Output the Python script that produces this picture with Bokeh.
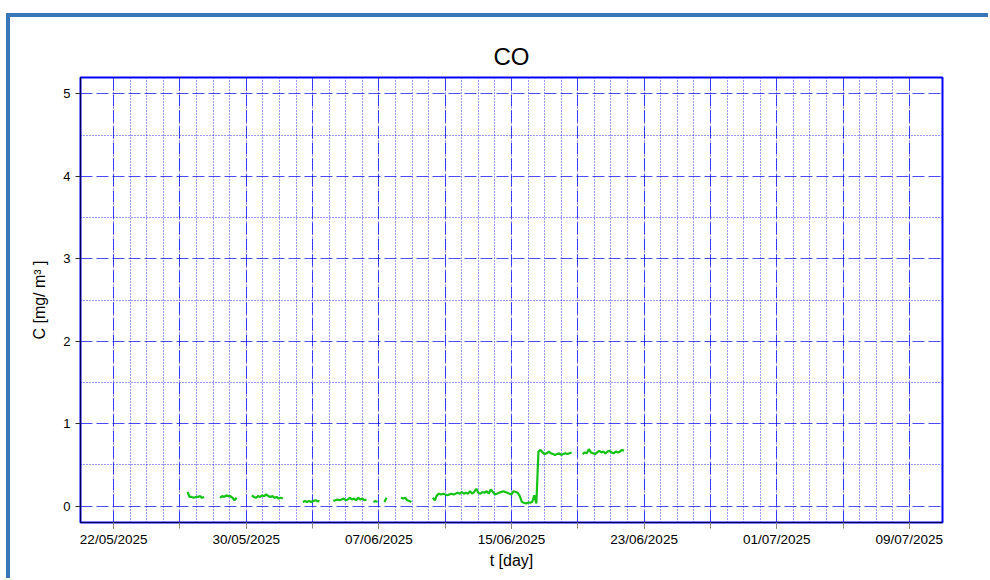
import numpy as np
import pandas as pd
from bokeh.plotting import figure
from bokeh.models import FixedTicker, DatetimeTickFormatter, Range1d
from bokeh.embed import file_html
from bokeh.resources import INLINE

# ---------------- data ----------------
title_text = "CO"
x_label = "t [day]"
y_label = "C [mg/ m³ ]"

x_start = "2025-05-20"
x_end = "2025-07-11"
y_min, y_max = -0.2, 5.2

label_dates = ["2025-05-22", "2025-05-30", "2025-06-07", "2025-06-15",
               "2025-06-23", "2025-07-01", "2025-07-09"]
grid_first = "2025-05-22"
grid_last = "2025-07-09"
y_ticks = [0, 1, 2, 3, 4, 5]
y_minor = [0.5, 1.5, 2.5, 3.5, 4.5]

sample_step = "3h"
seg_starts = [
    "2025-05-26 11:00", "2025-05-28 10:00", "2025-05-30 08:00", "2025-06-02 10:00",
    "2025-06-04 06:00", "2025-06-06 16:00", "2025-06-07 08:00", "2025-06-08 08:00",
    "2025-06-10 06:00", "2025-06-19 07:00",
]
seg_values = [
    [0.17, 0.11, 0.11, 0.10, 0.11, 0.11, 0.12, 0.10, 0.11],
    [0.10, 0.12, 0.11, 0.13, 0.12, 0.12, 0.10, 0.07, 0.10],
    [0.13, 0.11, 0.10, 0.12, 0.11, 0.13, 0.12, 0.14, 0.12, 0.11, 0.12, 0.10,
     0.11, 0.09, 0.10, 0.09],
    [0.05, 0.06, 0.05, 0.06, 0.05, 0.06, 0.07, 0.06, 0.06],
    [0.06, 0.07, 0.08, 0.07, 0.08, 0.09, 0.07, 0.08, 0.10, 0.08, 0.09, 0.07,
     0.10, 0.08, 0.09, 0.07, 0.08],
    [0.05, 0.06, 0.05],
    [0.05, 0.10],
    [0.10, 0.09, 0.10, 0.07, 0.06, 0.05],
    [0.10, 0.07, 0.13, 0.15, 0.14, 0.15, 0.14, 0.13, 0.14, 0.15, 0.14, 0.15,
     0.16, 0.15, 0.17, 0.15, 0.16, 0.15, 0.18, 0.15, 0.17, 0.21, 0.16, 0.15,
     0.17, 0.16, 0.18, 0.15, 0.20, 0.17, 0.14, 0.15, 0.16, 0.17, 0.18, 0.17,
     0.16, 0.15, 0.14, 0.18, 0.17, 0.16, 0.12, 0.05,
     0.04, 0.03, 0.04, 0.04, 0.05, 0.13, 0.03,
     0.66, 0.68, 0.65, 0.63, 0.64, 0.66, 0.64, 0.63, 0.62, 0.63, 0.64, 0.62,
     0.63, 0.64, 0.63, 0.64, 0.65],
    [0.63, 0.65, 0.64, 0.69, 0.65, 0.64, 0.63, 0.65, 0.67, 0.65, 0.66, 0.64,
     0.66, 0.67, 0.65, 0.64, 0.66, 0.65, 0.66, 0.68, 0.67],
]

FONT = "Liberation Sans"


def ms(s):
    return pd.Timestamp(s).timestamp() * 1000.0


p = figure(frame_width=862, frame_height=445, x_axis_type="datetime",
           output_backend="svg", toolbar_location=None,
           x_range=Range1d(pd.Timestamp(x_start), pd.Timestamp(x_end)),
           y_range=Range1d(y_min, y_max),
           min_border_left=70, min_border_right=46,
           min_border_top=60, min_border_bottom=56)
p.styles = {"border-left": "4px solid #3878b8", "border-top": "4px solid #3878b8",
            "margin-left": "6px", "margin-top": "13px"}
p.background_fill_color = "white"
p.border_fill_color = "white"
p.outline_line_color = "#0000ff"
p.outline_line_width = 2
p.outline_line_alpha = 1.0

p.title.text = title_text
p.title.align = "center"
p.title.text_font = FONT
p.title.text_font_size = "24px"
p.title.text_font_style = "normal"
p.title.text_color = "black"
p.title.standoff = 16

# ticks
day_ticks = [t.timestamp() * 1000.0 for t in pd.date_range(grid_first, grid_last, freq="1D")]
four_ticks = [t.timestamp() * 1000.0 for t in pd.date_range(grid_first, grid_last, freq="4D")]

xa = p.xaxis[0]
xa.ticker = FixedTicker(ticks=[ms(d) for d in label_dates], minor_ticks=four_ticks)
fmt = "%d/%m/%Y"
xa.formatter = DatetimeTickFormatter(days=fmt, months=fmt, years=fmt, hours=fmt,
                                     hourmin=fmt, minutes=fmt)
ya = p.yaxis[0]
ya.ticker = FixedTicker(ticks=y_ticks, minor_ticks=[])

for ax in (xa, ya):
    ax.axis_line_color = "#000050"
    ax.axis_line_width = 1
    ax.major_tick_in = 0
    ax.major_tick_line_color = "#303030"
    ax.major_label_text_font = FONT
    ax.major_label_text_color = "black"
    ax.axis_label_text_font = FONT
    ax.axis_label_text_font_size = "16px"
    ax.axis_label_text_font_style = "normal"
    ax.axis_label_text_color = "black"

xa.major_tick_out = 6
xa.minor_tick_out = 6
xa.minor_tick_in = 0
xa.minor_tick_line_color = "#8a8a8a"
xa.major_label_text_font_size = "13.5px"
xa.major_label_standoff = 3
xa.axis_label = x_label
xa.axis_label_standoff = 2

ya.major_tick_out = 5
ya.minor_tick_line_color = None
ya.major_label_text_font_size = "13px"
ya.major_label_standoff = 5
ya.axis_label = y_label
ya.axis_label_standoff = 12

# grids
p.xgrid.ticker = FixedTicker(ticks=four_ticks, minor_ticks=day_ticks)
p.ygrid.ticker = FixedTicker(ticks=y_ticks, minor_ticks=y_minor)
for g in (p.xgrid[0], p.ygrid[0]):
    g.grid_line_color = "#0000ff"
    g.grid_line_alpha = 0.7
    g.grid_line_width = 1
    g.grid_line_dash = "12 4"
    g.minor_grid_line_color = "#0000ff"
    g.minor_grid_line_alpha = 0.8
    g.minor_grid_line_width = 1
    g.minor_grid_line_dash = "1 2"

# data
for start, vals in zip(seg_starts, seg_values):
    times = pd.date_range(start, periods=len(vals), freq=sample_step)
    p.line(times, vals, line_color="#14c314", line_width=2.2)

open("out.html", "w").write(file_html(p, INLINE))
